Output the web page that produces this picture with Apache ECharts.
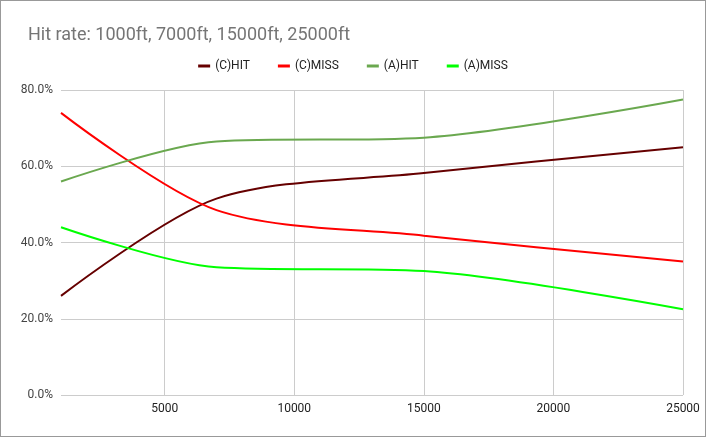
<!DOCTYPE html>
<html><head><meta charset="utf-8">
<script src="https://cdn.jsdelivr.net/npm/echarts@6/dist/echarts.min.js"></script>
<style>html,body{margin:0;padding:0}#c{width:706px;height:437px;box-sizing:border-box;border:1px solid #999}</style>
</head><body><div id="c"></div>
<script>
var altitudes = [1000, 7000, 15000, 25000];
var cHit = [26, 51.5, 58.2, 65];
var cMiss = [74, 48.5, 41.8, 35];
var aHit = [56, 66.5, 67.5, 77.5];
var aMiss = [44, 33.5, 32.5, 22.5];
var xTicks = [5000, 10000, 15000, 20000, 25000];

function pairs(v) {
	return altitudes.map(function(a, i) { return [a, v[i]]; });
}
function line(name, color, v) {
	return { name: name, type: 'line', smooth: 0.3, showSymbol: false, data: pairs(v),
		lineStyle: { color: color, width: 2 }, itemStyle: { color: color } };
}

var chart = echarts.init(document.getElementById('c'));
chart.setOption({
	animation: false,
	title: { text: 'Hit rate: 1000ft, 7000ft, 15000ft, 25000ft', left: 22, top: 20,
		textStyle: { color: '#757575', fontSize: 18, fontWeight: 'normal', fontFamily: 'Roboto' } },
	legend: { top: 54, left: 'center', icon: 'rect', itemWidth: 12, itemHeight: 3, itemGap: 28,
		textStyle: { color: '#222', fontSize: 12, fontFamily: 'Roboto' } },
	grid: { left: 60, right: 22, top: 89, bottom: 41 },
	xAxis: { type: 'value', min: 1000, max: 25000,
		axisLine: { show: false }, axisTick: { show: false, customValues: xTicks },
		axisLabel: { customValues: xTicks, formatter: function(v) { return String(v); },
			color: '#222', fontSize: 12, fontFamily: 'Roboto' },
		splitLine: { show: true, lineStyle: { color: '#ccc' } } },
	yAxis: { type: 'value', min: 0, max: 80, interval: 20,
		axisLabel: { formatter: function(v) { return v.toFixed(1) + '%'; }, color: '#444', fontSize: 12, fontFamily: 'Roboto' },
		axisLine: { show: false }, axisTick: { show: false },
		splitLine: { lineStyle: { color: '#ccc' } } },
	series: [
		line('(C)HIT', '#660000', cHit),
		line('(C)MISS', '#ff0000', cMiss),
		line('(A)HIT', '#6aa84f', aHit),
		line('(A)MISS', '#00ff00', aMiss)
	]
});
</script></body></html>
